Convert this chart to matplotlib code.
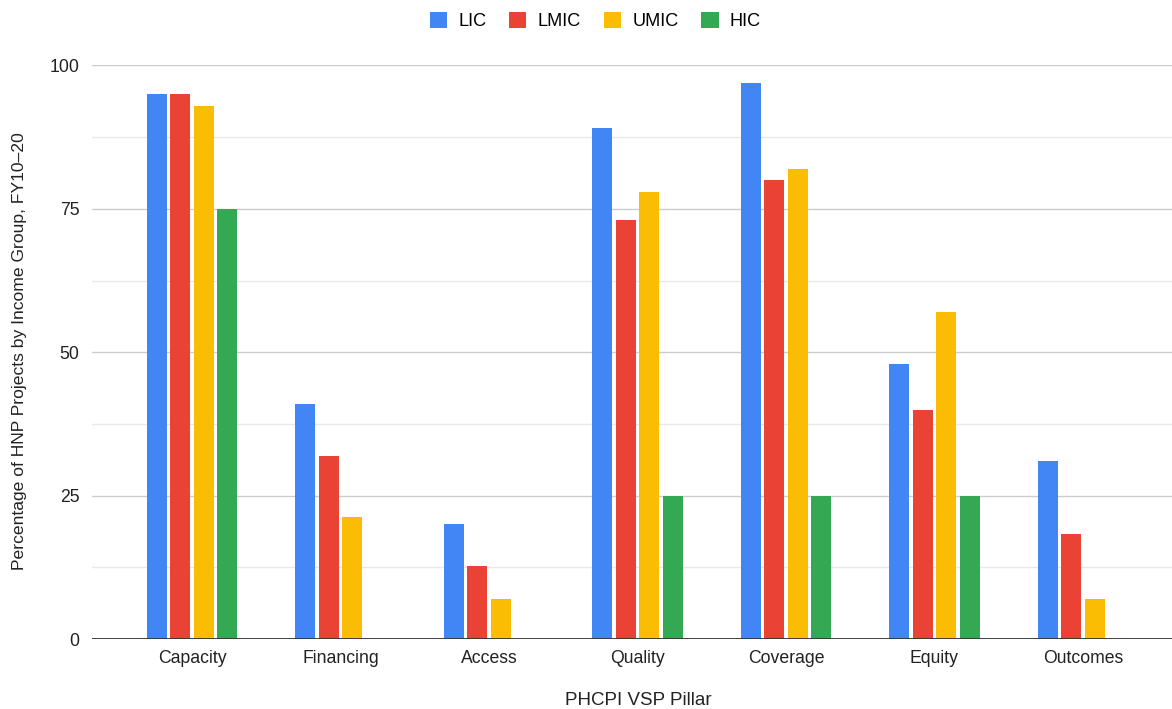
import matplotlib.pyplot as plt
import numpy as np

plt.rcParams['font.family'] = ['Liberation Sans', 'DejaVu Sans']

pillars = ['Capacity', 'Financing', 'Access', 'Quality', 'Coverage', 'Equity', 'Outcomes']
groups = ['LIC', 'LMIC', 'UMIC', 'HIC']
lic = [95, 41, 20, 89, 97, 48, 31]
lmic = [95, 32, 12.8, 73, 80, 40, 18.4]
umic = [93, 21.3, 7, 78, 82, 57, 7]
hic = [75, 0, 0, 25, 25, 25, 0]
colors = ['#4285F4', '#EA4335', '#FBBC04', '#34A853']

fig = plt.figure(figsize=(11.72, 7.09), dpi=100)
ax = fig.add_axes([0.0785, 0.0985, 0.9215, 0.8093])

x = np.arange(len(pillars))
slot = 0.158
width = 0.135
for i, (name, vals) in enumerate(zip(groups, [lic, lmic, umic, hic])):
	ax.bar(x + (i - 1.5) * slot, vals, width=width, color=colors[i], label=name, zorder=3)

ax.set_xlim(-0.673, 6.6)
ax.set_ylim(0, 100)
ax.set_yticks([0, 25, 50, 75, 100])
ax.set_yticks(np.arange(12.5, 100, 25), minor=True)
ax.grid(axis='y', which='major', color='#cccccc', lw=1.0, zorder=0)
ax.grid(axis='y', which='minor', color='#e8e8e8', lw=1.0, zorder=0)
ax.axhline(0, color='#333333', lw=1.3, zorder=4)

for s in ax.spines.values():
	s.set_visible(False)
ax.tick_params(axis='both', which='both', length=0, labelsize=12.7, colors='#222222')
ax.tick_params(axis='y', pad=9)
ax.tick_params(axis='x', pad=8)
ax.set_xticks(x)
ax.set_xticklabels(pillars)

fig.text(0.017, 0.505, 'Percentage of HNP Projects by Income Group, FY10\u201320',
	rotation=90, ha='center', va='center', fontsize=12.6, color='#222222')
fig.text(0.545, 0.012, 'PHCPI VSP Pillar', ha='center', va='center', fontsize=13.5, color='#222222')

fig.legend(loc='upper center', bbox_to_anchor=(0.508, 1.006), ncol=4, frameon=False,
	fontsize=13.1, handlelength=0.95, handleheight=0.95, columnspacing=1.25, handletextpad=0.62)

fig.savefig('out.png', dpi=100)
